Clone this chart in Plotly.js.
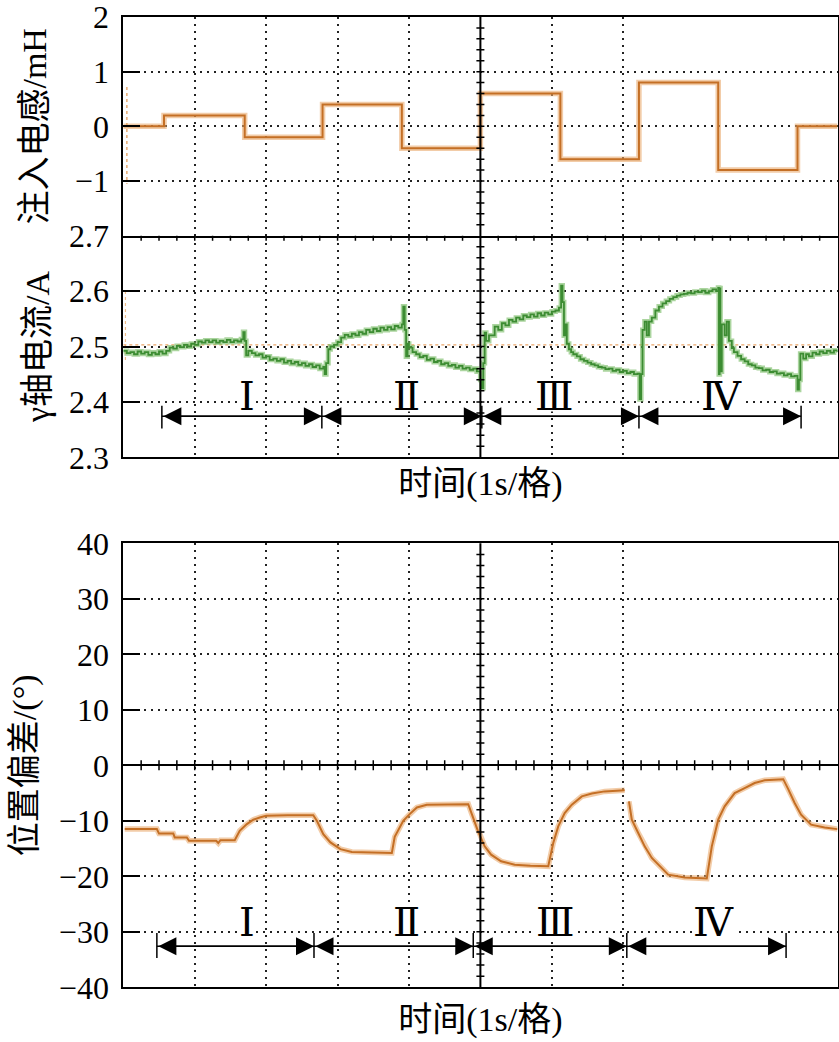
<!DOCTYPE html>
<html>
<head>
<meta charset="utf-8">
<script src="https://cdn.plot.ly/plotly-3.0.1.min.js"></script>
<style>html,body{margin:0;padding:0;background:#fff;}#chart{width:839px;height:1042px;}</style>
</head>
<body>
<div id="chart"></div>
<script>
// ---------- data ----------
// Injected inductance (mH): switching instants (s) and levels
const indTime = [0, 0.57, 1.70, 2.79, 3.90, 5.00, 6.12, 7.22, 8.33, 9.44, 10.0];
const indVals = [0, 0.20, -0.20, 0.40, -0.40, 0.60, -0.60, 0.80, -0.80, 0.00, 0.00];
const indSpikeT = [0.05, 0.05];
const indSpikeV = [0.72, -1.05];

// gamma-axis current (A)
const curTime = [0.00,0.05,0.10,0.15,0.20,0.25,0.30,0.35,0.40,0.45,0.50,0.55,0.60,
  0.65,0.70,0.75,0.80,0.85,0.90,0.95,1.00,1.05,1.10,1.15,1.20,1.25,1.30,1.35,1.40,1.45,1.50,1.55,1.60,1.65,1.68,1.70,1.72,
  1.75,1.80,1.85,1.90,1.95,2.00,2.05,2.10,2.15,2.20,2.25,2.30,2.35,2.40,2.45,2.50,2.55,2.60,2.65,2.70,2.75,2.80,2.82,2.84,2.87,
  2.90,2.95,3.00,3.05,3.10,3.15,3.20,3.25,3.30,3.35,3.40,3.45,3.50,3.55,3.60,3.65,3.70,3.75,3.80,3.85,3.90,3.92,3.94,3.96,3.98,
  4.00,4.05,4.10,4.15,4.20,4.25,4.30,4.35,4.40,4.45,4.50,4.55,4.60,4.65,4.70,4.75,4.80,4.85,4.90,4.95,5.00,5.02,5.04,5.06,5.08,
  5.12,5.20,5.25,5.30,5.35,5.40,5.45,5.50,5.55,5.60,5.65,5.70,5.75,5.80,5.85,5.90,5.95,6.00,6.05,6.10,6.13,6.15,6.17,6.19,6.21,
  6.24,6.27,6.30,6.35,6.40,6.45,6.50,6.55,6.60,6.65,6.70,6.75,6.80,6.85,6.90,6.95,7.00,7.05,7.10,7.15,7.20,7.23,7.25,7.27,7.30,
  7.33,7.36,7.40,7.45,7.50,7.55,7.60,7.65,7.70,7.75,7.80,7.85,7.90,7.95,8.00,8.05,8.10,8.15,8.20,8.25,8.30,8.33,8.34,8.35,8.36,
  8.38,8.42,8.45,8.48,8.52,8.55,8.60,8.65,8.70,8.75,8.80,8.85,8.90,8.95,9.00,9.05,9.10,9.15,9.20,9.25,9.30,9.35,9.40,9.44,9.46,
  9.48,9.52,9.56,9.60,9.65,9.70,9.75,9.80,9.85,9.90,9.95,10.00];
const curVals = [2.492,2.488,2.490,2.486,2.491,2.487,2.490,2.485,2.489,2.486,2.491,2.487,2.492,
  2.498,2.496,2.501,2.499,2.503,2.500,2.505,2.503,2.509,2.507,2.511,2.508,2.511,2.507,2.510,2.508,2.512,2.508,2.511,2.509,2.513,2.526,2.510,2.484,
  2.492,2.488,2.484,2.486,2.480,2.482,2.476,2.478,2.474,2.477,2.471,2.474,2.469,2.472,2.467,2.470,2.465,2.468,2.463,2.466,2.460,2.463,2.450,2.470,2.495,
  2.500,2.503,2.508,2.516,2.521,2.518,2.523,2.520,2.526,2.523,2.530,2.526,2.532,2.528,2.534,2.530,2.535,2.531,2.537,2.534,2.540,2.572,2.530,2.482,2.505,
  2.498,2.490,2.486,2.481,2.483,2.476,2.478,2.472,2.474,2.468,2.470,2.465,2.467,2.462,2.465,2.460,2.462,2.458,2.460,2.455,2.440,2.425,2.470,2.525,2.510,
  2.520,2.536,2.530,2.542,2.538,2.548,2.545,2.552,2.549,2.556,2.553,2.558,2.554,2.560,2.556,2.561,2.558,2.563,2.565,2.570,2.610,2.580,2.520,2.540,2.505,
  2.495,2.490,2.486,2.482,2.477,2.474,2.471,2.468,2.466,2.463,2.462,2.459,2.460,2.456,2.458,2.454,2.456,2.452,2.454,2.450,2.451,2.405,2.450,2.530,2.545,
  2.520,2.545,2.552,2.565,2.572,2.578,2.582,2.586,2.589,2.592,2.594,2.595,2.597,2.596,2.599,2.598,2.601,2.597,2.600,2.603,2.600,2.606,2.450,2.605,2.455,
  2.540,2.520,2.545,2.510,2.497,2.490,2.483,2.477,2.473,2.468,2.466,2.462,2.461,2.457,2.458,2.454,2.455,2.451,2.452,2.448,2.450,2.446,2.447,2.422,2.440,
  2.487,2.478,2.486,2.482,2.489,2.486,2.491,2.488,2.492,2.489,2.493,2.490];
const curRefT = [0, 10];
const curRefV = [2.503, 2.503];
const curSpikeT = [0.03, 0.03];
const curSpikeV = [2.60, 2.47];

// Position error (deg)
const posTime = [0.02,0.47,0.50,0.70,0.72,0.89,0.92,1.20,1.30,1.33,1.36,1.56,1.63,1.73,1.82,1.91,2.00,2.30,2.66,2.71,2.80,2.90,3.04,3.20,3.40,3.60,3.76,
  3.80,3.92,4.01,4.11,4.25,4.50,4.83,4.88,4.97,5.06,5.15,5.29,5.48,5.70,5.95,6.02,6.09,6.18,6.28,6.42,6.56,6.74,7.02,7.05,7.08,7.12,7.21,7.30,
  7.40,7.54,7.63,7.86,8.15,8.17,8.24,8.33,8.42,8.56,8.70,8.84,8.98,9.24,9.31,9.40,9.49,9.63,9.82,10.00];
const posVals = [-11.5,-11.5,-12.3,-12.3,-13.0,-13.0,-13.6,-13.6,-13.6,-14.0,-13.5,-13.5,-11.8,-10.6,-9.8,-9.4,-9.1,-9.0,-9.0,-10.0,-12.4,-13.9,-15.1,-15.6,-15.7,-15.8,-15.8,
  -12.9,-10.0,-8.8,-7.6,-7.1,-7.0,-7.0,-8.8,-12.0,-14.6,-16.1,-17.3,-17.9,-18.1,-18.2,-14.0,-11.0,-8.6,-7.1,-5.6,-5.1,-4.7,-4.5,null,-6.5,-9.8,-12.2,-14.6,
  -16.7,-18.5,-19.7,-20.2,-20.5,-20.4,-14.6,-9.8,-7.4,-5.0,-4.1,-3.2,-2.7,-2.5,-4.3,-6.8,-8.9,-10.7,-11.2,-11.5];

// Stage markers
const stageNames = ['Ⅰ', 'Ⅱ', 'Ⅲ', 'Ⅳ'];
const topStageEdges = [0.54, 2.78, 5.02, 7.22, 9.49];
const botStageEdges = [0.47, 2.67, 4.90, 7.05, 9.28];
const topStageLabelX = [1.73, 3.97, 6.04, 8.37];
const botStageLabelX = [1.73, 3.97, 6.05, 8.26];
const topArrowY = 2.374, topLabelY = 2.410, topBarY = [2.352, 2.393];
const botArrowY = -32.6, botLabelY = -28.2, botBarY = [-34.7, -30.2];

// tick labels
const indTicks = [2, 1, 0, -1];
const indTickText = ['2', '1', '0', '−1'];
const curTicks = [2.7, 2.6, 2.5, 2.4, 2.3];
const curTickText = ['2.7', '2.6', '2.5', '2.4', '2.3'];
const posTicks = [40, 30, 20, 10, 0, -10, -20, -30, -40];
const posTickText = ['40', '30', '20', '10', '0', '−10', '−20', '−30', '−40'];
const timeGrid = [1, 2, 3, 4, 6, 7];
const xTitle = '时间(1s/格)';

// ---------- styling ----------
const W = 839, H = 1042;
const px2fx = v => v / W;
const py2fy = v => 1 - v / H;
const xDom = [px2fx(123.3), px2fx(837.5)];
const yTopDom = [py2fy(235.7), py2fy(17)];
const yMidDom = [py2fy(457.3), py2fy(235.7)];
const yBotDom = [py2fy(987.3), py2fy(543.3)];

const serif = '"Liberation Serif", "Times New Roman", "Noto Sans CJK SC", serif';
const titleFont = {family: serif, size: 34, color: '#000'};
const tickFont = {family: serif, size: 32, color: '#000'};
const dotGrid = '2px,5px';

const orangeHalo = 'rgba(233,170,110,0.6)', orangeCore = '#c46f25';
const greenHalo = 'rgba(115,185,95,0.6)', greenCore = '#3c8c32';

const traces = [
  {x: indTime, y: indVals, xaxis: 'x', yaxis: 'y', mode: 'lines', line: {shape: 'hv', color: orangeHalo, width: 5.5}, hoverinfo: 'skip'},
  {x: indTime, y: indVals, xaxis: 'x', yaxis: 'y', mode: 'lines', line: {shape: 'hv', color: orangeCore, width: 2}, name: '注入电感'},
  {x: indSpikeT, y: indSpikeV, xaxis: 'x', yaxis: 'y', mode: 'lines', line: {color: 'rgba(225,150,80,0.8)', width: 1.5, dash: '3px,3px'}, hoverinfo: 'skip'},
  {x: curRefT, y: curRefV, xaxis: 'x2', yaxis: 'y2', mode: 'lines', line: {color: 'rgba(230,150,80,0.85)', width: 1.2, dash: '3px,3px'}, hoverinfo: 'skip'},
  {x: curSpikeT, y: curSpikeV, xaxis: 'x2', yaxis: 'y2', mode: 'lines', line: {color: 'rgba(230,160,90,0.7)', width: 1.2, dash: '3px,3px'}, hoverinfo: 'skip'},
  {x: curTime, y: curVals, xaxis: 'x2', yaxis: 'y2', mode: 'lines', line: {shape: 'hv', color: greenHalo, width: 5}, hoverinfo: 'skip'},
  {x: curTime, y: curVals, xaxis: 'x2', yaxis: 'y2', mode: 'lines', line: {shape: 'hv', color: greenCore, width: 1.8}, name: 'γ轴电流'},
  {x: posTime, y: posVals, xaxis: 'x3', yaxis: 'y3', mode: 'lines', connectgaps: false, line: {color: orangeHalo, width: 5.5}, hoverinfo: 'skip'},
  {x: posTime, y: posVals, xaxis: 'x3', yaxis: 'y3', mode: 'lines', connectgaps: false, line: {color: orangeCore, width: 2}, name: '位置偏差'}
];

const xCommon = {
  domain: xDom, range: [0, 10], showline: true, mirror: true, linecolor: '#000', linewidth: 2,
  tickvals: timeGrid, showticklabels: false, ticks: '', showgrid: true, gridcolor: '#222', gridwidth: 2,
  griddash: dotGrid, zeroline: false, fixedrange: true
};
const yCommon = {
  showline: true, mirror: true, linecolor: '#000', linewidth: 2, ticks: 'inside', ticklen: 17, tickwidth: 2,
  tickcolor: '#000', showgrid: true, gridcolor: '#222', gridwidth: 2, griddash: dotGrid, tickfont: tickFont,
  ticklabelstandoff: 6, ticklabeloverflow: 'allow', fixedrange: true
};

const layout = {
  width: W, height: H, margin: {l: 0, r: 0, t: 0, b: 0}, paper_bgcolor: '#fff', plot_bgcolor: '#fff',
  showlegend: false, font: {family: serif, color: '#000'},
  xaxis: Object.assign({}, xCommon, {anchor: 'y'}),
  xaxis2: Object.assign({}, xCommon, {anchor: 'y2', matches: 'x', mirror: false,
    title: {text: xTitle + '\u00a0\u00a0\u00a0', font: titleFont, standoff: 13}}),
  xaxis3: Object.assign({}, xCommon, {anchor: 'y3',
    title: {text: xTitle + '\u00a0\u00a0\u00a0', font: titleFont, standoff: 19}}),
  yaxis: Object.assign({}, yCommon, {domain: yTopDom, anchor: 'x', range: [-2, 2], tickvals: indTicks, ticktext: indTickText,
    zeroline: false, title: {text: '注入电感/mH', font: titleFont, standoff: 18}}),
  yaxis2: Object.assign({}, yCommon, {domain: yMidDom, anchor: 'x2', range: [2.3, 2.7], tickvals: curTicks, ticktext: curTickText,
    zeroline: false, title: {text: 'γ轴电流/A', font: titleFont, standoff: 9}}),
  yaxis3: Object.assign({}, yCommon, {domain: yBotDom, anchor: 'x3', range: [-40, 40], tickvals: posTicks, ticktext: posTickText,
    zeroline: true, zerolinecolor: '#000', zerolinewidth: 2, title: {text: '位置偏差/(°)', font: titleFont, standoff: 12}}),
  shapes: [],
  annotations: []
};

// centre cross of each oscilloscope frame
layout.shapes.push({type: 'line', xref: 'x', yref: 'paper', x0: 5, x1: 5, y0: yMidDom[0], y1: yTopDom[1], line: {color: '#000', width: 2}});
layout.shapes.push({type: 'line', xref: 'x3', yref: 'paper', x0: 5, x1: 5, y0: yBotDom[0], y1: yBotDom[1], line: {color: '#000', width: 2}});
// minor ticks along horizontal centre lines (every 0.25 s)
for (let k = 1; k < 40; k++) {
  const t = k * 0.25;
  if (Math.abs(t - 5) < 1e-9) continue;
  layout.shapes.push({type: 'line', xref: 'x2', yref: 'y2', ysizemode: 'pixel', yanchor: 2.7, y0: -5, y1: 5, x0: t, x1: t, line: {color: '#000', width: 1.5}});
  layout.shapes.push({type: 'line', xref: 'x3', yref: 'y3', ysizemode: 'pixel', yanchor: 0, y0: -5, y1: 5, x0: t, x1: t, line: {color: '#000', width: 1.5}});
}
// minor ticks along vertical centre lines (5 per division)
for (let k = 1; k < 20; k++) {
  const vTop = -2 + k * 0.2, vMid = 2.3 + k * 0.02;
  layout.shapes.push({type: 'line', xref: 'x', yref: 'y', xsizemode: 'pixel', xanchor: 5, x0: -4, x1: 4, y0: vTop, y1: vTop, line: {color: '#000', width: 1.5}});
  layout.shapes.push({type: 'line', xref: 'x2', yref: 'y2', xsizemode: 'pixel', xanchor: 5, x0: -4, x1: 4, y0: vMid, y1: vMid, line: {color: '#000', width: 1.5}});
}
for (let k = 1; k < 40; k++) {
  const vBot = -40 + k * 2;
  if (vBot === 0) continue;
  layout.shapes.push({type: 'line', xref: 'x3', yref: 'y3', xsizemode: 'pixel', xanchor: 5, x0: -4, x1: 4, y0: vBot, y1: vBot, line: {color: '#000', width: 1.5}});
}

// stage arrows, bars and labels
function addStages(xr, yr, edges, labelX, arrowY, labelY, barY) {
  edges.forEach(e => {
    layout.shapes.push({type: 'line', xref: xr, yref: yr, x0: e, x1: e, y0: barY[0], y1: barY[1], line: {color: '#000', width: 1.5}});
  });
  layout.shapes.push({type: 'line', xref: xr, yref: yr, x0: edges[0], x1: edges[edges.length - 1], y0: arrowY, y1: arrowY,
    line: {color: '#000', width: 1.5}});
  for (let i = 0; i < stageNames.length; i++) {
    layout.annotations.push({xref: xr, yref: yr, axref: xr, ayref: yr, x: edges[i + 1], y: arrowY, ax: edges[i], ay: arrowY,
      text: '', showarrow: true, arrowhead: 2, startarrowhead: 2, arrowside: 'end+start', arrowsize: 2.4, startarrowsize: 2.4,
      arrowwidth: 1.5, arrowcolor: '#000', standoff: 0, startstandoff: 0});
    layout.annotations.push({xref: xr, yref: yr, x: labelX[i], y: labelY, text: stageNames[i], showarrow: false,
      font: {family: '"Liberation Serif", "DejaVu Serif", serif', size: 40, color: '#000'}, bgcolor: '#fff',
      borderpad: 0, height: 30, valign: 'middle'});
  }
}
addStages('x2', 'y2', topStageEdges, topStageLabelX, topArrowY, topLabelY, topBarY);
addStages('x3', 'y3', botStageEdges, botStageLabelX, botArrowY, botLabelY, botBarY);

Plotly.newPlot('chart', traces, layout, {staticPlot: true, displayModeBar: false});
</script>
</body>
</html>
